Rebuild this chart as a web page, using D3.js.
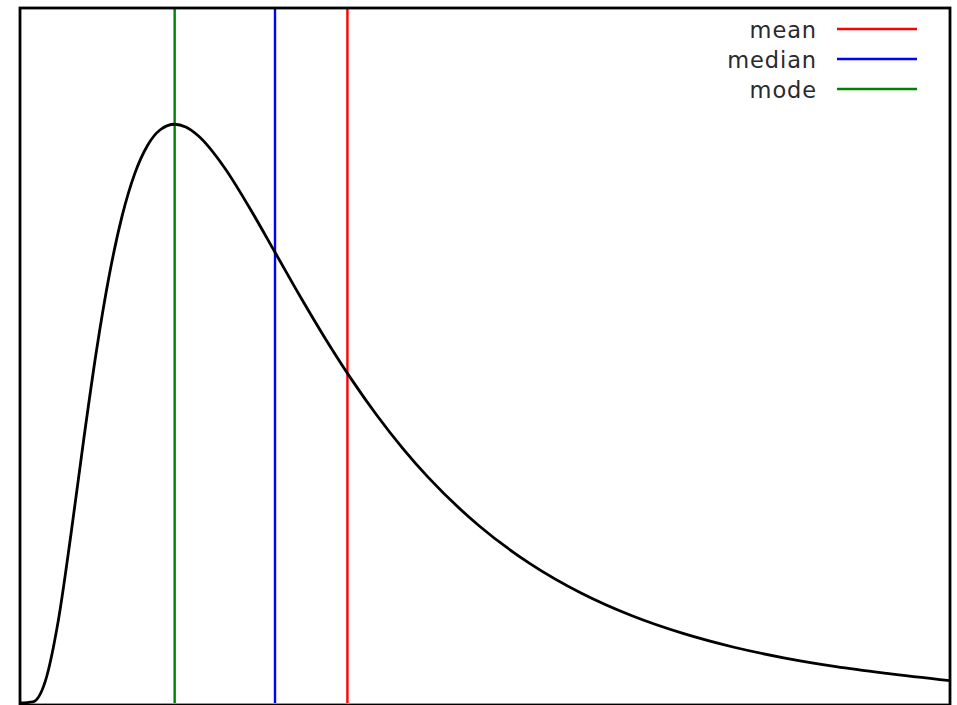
<!DOCTYPE html>
<html>
<head>
<meta charset="utf-8">
<script src="https://cdn.jsdelivr.net/npm/d3@7"></script>
<style>
  body { margin: 0; background: #fff; }
  svg { display: block; }
</style>
</head>
<body>
<svg id="container"></svg>
<script>
/* CONSTANTS AND GLOBALS */
const width = 957,
  height = 705,
  margin = { top: 8, right: 7, bottom: 2, left: 20 };

/* DATA */
const xValues = [0, 0.05, 0.1, 0.15, 0.2, 0.25, 0.3, 0.35, 0.4, 0.45, 0.5, 0.55, 0.6065,
  0.65, 0.7, 0.8, 0.9, 1.0, 1.1, 1.2, 1.3, 1.4, 1.5, 1.6, 1.8, 2.0, 2.2, 2.4, 2.6,
  2.8, 3.0, 3.2, 3.4, 3.647];
const densities = [0, 0.0014, 0.0281, 0.1028, 0.2116, 0.3302, 0.4413, 0.5354, 0.6091,
  0.6627, 0.6979, 0.7176, 0.7245, 0.7210, 0.7097, 0.6710, 0.6200, 0.5642, 0.5083,
  0.4548, 0.4051, 0.3599, 0.3191, 0.2827, 0.2219, 0.1745, 0.1377, 0.1092, 0.0871,
  0.0698, 0.0563, 0.0456, 0.0371, 0.0280];

const statNames = ["mean", "median", "mode"];
const statValues = [1.284, 1.0, 0.6065];
const statColors = ["#ff0000", "#0000ff", "#008000"];

const data = xValues.map((x, i) => ({ x: x, y: densities[i] }));
const stats = statNames.map((n, i) => ({ name: n, value: statValues[i], color: statColors[i] }));

/* SCALES */
const xScale = d3.scaleLinear()
  .domain([0, 3.647])
  .range([margin.left, width - margin.right]);

const yScale = d3.scaleLinear()
  .domain([0, 0.87])
  .range([height - margin.bottom, margin.top]);

/* HTML ELEMENTS */
const svg = d3.select("#container")
  .attr("width", width)
  .attr("height", height);

// vertical lines for mean / median / mode
svg.selectAll("line.stat")
  .data(stats)
  .join("line")
  .attr("class", "stat")
  .attr("x1", d => xScale(d.value))
  .attr("x2", d => xScale(d.value))
  .attr("y1", yScale(0.87))
  .attr("y2", yScale(0))
  .attr("stroke", d => d.color)
  .attr("stroke-width", 2.4);

// the density curve
const line = d3.line()
  .x(d => xScale(d.x))
  .y(d => yScale(d.y))
  .curve(d3.curveMonotoneX);

svg.append("path")
  .datum(data)
  .attr("d", line)
  .attr("fill", "none")
  .attr("stroke", "#000")
  .attr("stroke-width", 2.8);

// frame
svg.append("rect")
  .attr("x", margin.left)
  .attr("y", margin.top)
  .attr("width", width - margin.left - margin.right)
  .attr("height", height - margin.top - margin.bottom + 2)
  .attr("fill", "none")
  .attr("stroke", "#000")
  .attr("stroke-width", 2.8);

// legend
const legend = svg.append("g")
  .selectAll("g")
  .data(stats)
  .join("g")
  .attr("transform", (d, i) => `translate(0, ${29 + i * 30})`);

legend.append("text")
  .attr("x", 817)
  .attr("y", 8.5)
  .attr("text-anchor", "end")
  .attr("font-family", "DejaVu Sans")
  .attr("font-size", 22.5)
  .attr("letter-spacing", 0.9)
  .attr("fill", "#2a2a2a")
  .text(d => d.name);

legend.append("line")
  .attr("x1", 837)
  .attr("x2", 917)
  .attr("stroke", d => d.color)
  .attr("stroke-width", 2.6);
</script>
</body>
</html>
